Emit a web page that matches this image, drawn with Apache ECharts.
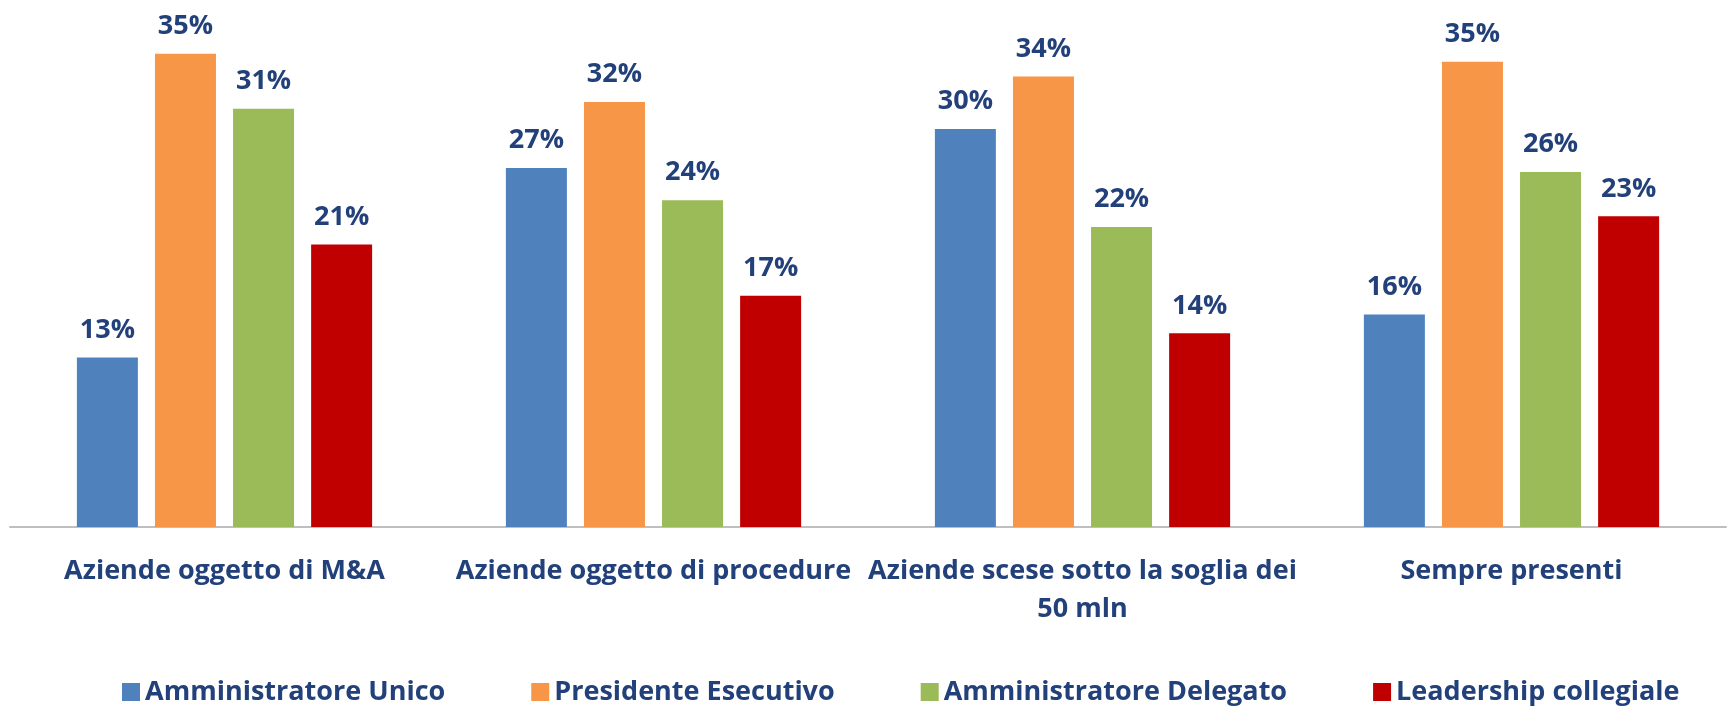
<!DOCTYPE html>
<html>
<head>
<meta charset="utf-8">
<title>Leadership</title>
<script src="https://cdn.jsdelivr.net/npm/echarts@6/dist/echarts.min.js"></script>
<style>
  html, body { margin: 0; padding: 0; background: #fff; }
  #chart { width: 1729px; height: 707px; }
</style>
</head>
<body>
<div id="chart"></div>
<script>
// categorie sull'asse x
const categories = [
  'Aziende oggetto di M&A',
  'Aziende oggetto di procedure',
  'Aziende scese sotto la soglia dei\n50 mln',
  'Sempre presenti'
]
const seriesNames = [
  'Amministratore Unico',
  'Presidente Esecutivo',
  'Amministratore Delegato',
  'Leadership collegiale'
]
const amministratoreUnico = [12.6, 26.7, 29.6, 15.8]
const presidenteEsecutivo = [35.2, 31.6, 33.5, 34.6]
const amministratoreDelegato = [31.1, 24.3, 22.3, 26.4]
const leadershipCollegiale = [21.0, 17.2, 14.4, 23.1]

const colors = ['#4F81BD', '#F79646', '#9BBB59', '#C00000']
const textColor = '#22407A'
const font = '"Open Sans", "Noto Sans", sans-serif'

const values = [amministratoreUnico, presidenteEsecutivo, amministratoreDelegato, leadershipCollegiale]

const series = seriesNames.map((name, i) => ({
  name: name,
  type: 'bar',
  data: values[i],
  barWidth: 61,
  barGap: '28%',
  itemStyle: { color: colors[i] },
  label: {
    show: true,
    position: 'top',
    distance: 14,
    color: textColor,
    fontFamily: font,
    fontWeight: 'bold',
    fontSize: 27,
    formatter: p => Math.round(p.value) + '%'
  }
}))

const myChart = echarts.init(document.getElementById('chart'))
myChart.setOption({
  animation: false,
  grid: { left: 10, right: 3, top: 16, bottom: 180, containLabel: false },
  legend: {
    data: seriesNames,
    left: 117,
    top: 672,
    itemWidth: 18,
    itemHeight: 18,
    itemGap: 86,
    icon: 'rect',
    textStyle: {
      color: textColor,
      fontFamily: font,
      fontWeight: 'bold',
      fontSize: 27,
      lineHeight: 30
    }
  },
  xAxis: {
    type: 'category',
    data: categories,
    axisTick: { show: false },
    axisLine: { lineStyle: { color: '#BFBFBF', width: 2 } },
    axisLabel: {
      interval: 0,
      margin: 25,
      color: textColor,
      fontFamily: font,
      fontWeight: 'bold',
      fontSize: 27,
      lineHeight: 38
    }
  },
  yAxis: {
    type: 'value',
    min: 0,
    max: 38,
    show: false,
    splitLine: { show: false }
  },
  series: series
})
</script>
</body>
</html>
